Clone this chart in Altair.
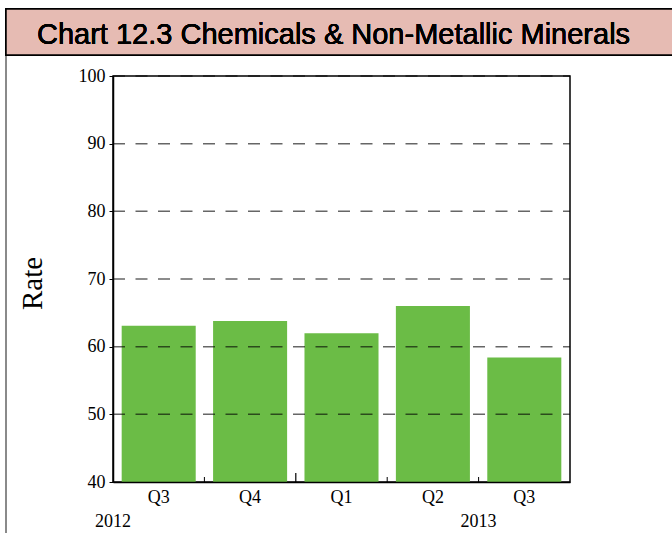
import altair as alt
import pandas as pd

# Quarterly rate, Chemicals & Non-Metallic Minerals
categories = ["2012 Q3", "2012 Q4", "2013 Q1", "2013 Q2", "2013 Q3"]
rates = [63.1, 63.8, 62.0, 66.0, 58.4]
grid_levels = [50, 60, 70, 80, 90, 100]
short_tick_at = ["2012 Q4", "2013 Q2", "2013 Q3"]
year_break_at = ["2013 Q1"]
year_labels = ["2012", "2013"]
year_anchor = ["2012 Q3", "2013 Q3"]

TITLE = "Chart 12.3 Chemicals & Non-Metallic Minerals"
SERIF = "Liberation Serif"
SANS = "Liberation Sans"
GREEN = "#6bbc46"
PINK = "#e6bbb3"

bars_df = pd.DataFrame({"cat": categories, "rate": rates})
grid_df = pd.DataFrame({"level": grid_levels})
short_df = pd.DataFrame({"cat": short_tick_at})
long_df = pd.DataFrame({"cat": year_break_at})
years_df = pd.DataFrame({"cat": year_anchor, "year": year_labels})

x_scale = alt.Scale(domain=categories, paddingInner=0, paddingOuter=0)
y_scale = alt.Scale(domain=[40, 100], nice=False, zero=False, clamp=True)

x_enc = alt.X(
    "cat:N",
    scale=x_scale,
    sort=categories,
    axis=alt.Axis(
        title=None,
        labelExpr="split(datum.value, ' ')[1]",
        labelAngle=0,
        labelFont=SERIF,
        labelFontSize=18,
        labelColor="black",
        labelPadding=6,
        ticks=False,
        domainColor="black",
        domainWidth=1.5,
        zindex=1,
    ),
)

bars = alt.Chart(bars_df).mark_bar(
    color=GREEN, width={"band": 0.81}
).encode(
    x=x_enc,
    y=alt.Y(
        "rate:Q",
        scale=y_scale,
        axis=alt.Axis(
            title="Rate",
            values=[40, 50, 60, 70, 80, 90, 100],
            grid=False,
            labelFont=SERIF,
            labelFontSize=18,
            labelColor="black",
            labelPadding=4,
            tickSize=4,
            tickColor="black",
            domainColor="black",
            domainWidth=1.5,
            titleFont=SERIF,
            titleFontSize=29,
            titleFontWeight="normal",
            titleColor="black",
            titleAngle=-90,
            titleX=-81,
            titleY=207,
            titleAlign="center",
            titleBaseline="middle",
            zindex=1,
        ),
    ),
    y2=alt.datum(40),
)

grid = alt.Chart(grid_df).mark_rule(
    color="black", opacity=0.6, strokeWidth=1.5, strokeDash=[12, 10.5]
).encode(
    y=alt.Y("level:Q", scale=y_scale),
    x=alt.value(0),
    x2=alt.value(457),
)

short_ticks = alt.Chart(short_df).mark_rule(color="black", strokeWidth=1).encode(
    x=alt.X("cat:N", scale=x_scale, sort=categories, bandPosition=0),
    y=alt.value(406),
    y2=alt.value(401),
)

long_ticks = alt.Chart(long_df).mark_rule(color="black", strokeWidth=1.2).encode(
    x=alt.X("cat:N", scale=x_scale, sort=categories, bandPosition=0),
    y=alt.value(406),
    y2=alt.value(397),
)

years = alt.Chart(years_df).mark_text(
    font=SERIF, fontSize=18, color="black", align="center", baseline="alphabetic"
).encode(
    x=alt.X("cat:N", scale=x_scale, sort=categories, bandPosition=0),
    y=alt.value(451),
    text="year:N",
)

# Header banner and left margin line
banner = alt.Chart(bars_df).mark_rect(
    fill=PINK, stroke="black", strokeWidth=1.5
).encode(
    x=alt.value(-107), x2=alt.value(570), y=alt.value(-67), y2=alt.value(-21)
)

header = alt.Chart(bars_df).mark_text(
    text=TITLE, font=SANS, fontSize=29, color="black", align="left",
    baseline="alphabetic",
).encode(x=alt.value(-76), y=alt.value(-32))

margin_line = alt.Chart(bars_df).mark_rule(color="#8a8a8a", strokeWidth=2).encode(
    x=alt.value(-107), y=alt.value(-21), y2=alt.value(460)
)

chart = alt.layer(
    margin_line, banner, header, bars, grid, short_ticks, long_ticks, years
).properties(
    width=457,
    height=406,
    background="white",
    autosize=alt.AutoSizeParams(type="none"),
    padding={"left": 113, "top": 76, "right": 102, "bottom": 51},
).configure_view(
    stroke="black", strokeWidth=1.5
)

chart.save("out.html", embed_options={"renderer": "svg", "actions": False})
